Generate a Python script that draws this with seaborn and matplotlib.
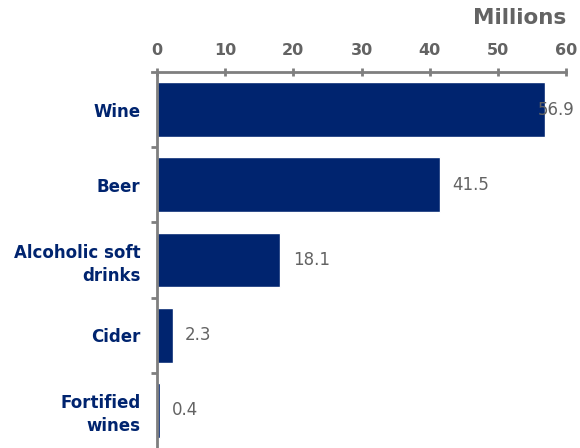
import matplotlib
matplotlib.use("Agg")
import matplotlib.pyplot as plt
import seaborn as sns
import pandas as pd

categories = ["Wine", "Beer", "Alcoholic soft\ndrinks", "Cider", "Fortified\nwines"]
values = [56.9, 41.5, 18.1, 2.3, 0.4]
x_ticks = [0, 10, 20, 30, 40, 50, 60]

navy = "#00246F"
grey = "#636363"
axis_grey = "#7F7F7F"

sns.set_theme(style="white")
plt.rcParams["font.family"] = ["DejaVu Sans"]

df = pd.DataFrame({"category": categories, "value": values})

fig = plt.figure(figsize=(5.8, 4.48), dpi=100)
ax = fig.add_axes([157 / 580, 0.0, (566 - 157) / 580, (448 - 72) / 448])

sns.barplot(data=df, x="value", y="category", orient="h", color=navy,
            saturation=1, width=0.73, ax=ax)

ax.set_xlim(0, 60)
ax.set_ylim(4.5, -0.5)
ax.set_xlabel("")
ax.set_ylabel("")

# value axis on top
ax.xaxis.tick_top()
ax.set_xticks(x_ticks)
ax.set_xticklabels([str(t) for t in x_ticks], fontsize=11.5, fontweight="bold", color=grey)
ax.tick_params(axis="x", direction="inout", length=6, width=2, color=axis_grey, pad=7)

# category axis: labels without ticks, separator ticks between categories
ax.set_yticks(range(len(categories)))
ax.set_yticklabels(categories, fontsize=12, fontweight="bold", color=navy,
                   linespacing=1.35)
ax.tick_params(axis="y", which="major", length=0, pad=12)
ax.set_yticks([0.5, 1.5, 2.5, 3.5], minor=True)
ax.tick_params(axis="y", which="minor", direction="out", length=4.5, width=2,
               color=axis_grey, left=True)
for lbl in ax.get_yticklabels():
    lbl.set_horizontalalignment("right")

for side in ["right", "bottom"]:
    ax.spines[side].set_visible(False)
for side in ["top", "left"]:
    ax.spines[side].set_color(axis_grey)
    ax.spines[side].set_linewidth(2)
ax.spines["top"].set_bounds(-0.8, 60)

# value labels
for i, v in enumerate(values):
    off = -5 if v > 55 else 9
    ax.annotate(f"{v:.1f}", xy=(v, i), xytext=(off, 0), textcoords="offset points",
                va="center", ha="left", fontsize=12, color=grey, zorder=5,
                annotation_clip=False)

fig.text(566 / 580, 1 - 18 / 448, "Millions", ha="right", va="center",
         fontsize=15.5, fontweight="bold", color=grey)

fig.savefig("out.png", dpi=100)
